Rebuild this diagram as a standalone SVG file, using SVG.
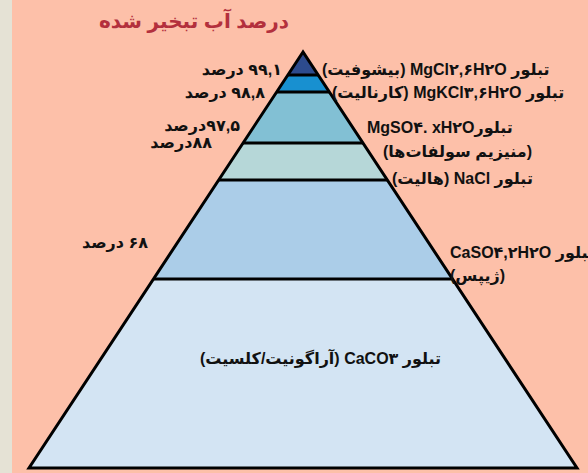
<svg xmlns="http://www.w3.org/2000/svg" width="588" height="473" viewBox="0 0 588 473">
<style>
.t{font-family:"Liberation Sans","DejaVu Sans",sans-serif;font-weight:bold;font-size:16px;fill:#111;direction:rtl}
.ttl{font-family:"Liberation Sans","DejaVu Sans",sans-serif;font-weight:bold;font-size:20px;fill:#b3303d;direction:rtl}
.ln{stroke:#000;stroke-width:3}
</style>
<defs>
<clipPath id="tri"><polygon points="303,52 29,468 577,468"/></clipPath>
</defs>
<rect x="0" y="0" width="588" height="473" fill="#fdc0a9"/>
<rect x="0" y="0" width="12" height="473" fill="#e5e2d5"/>
<g id="pyramid" clip-path="url(#tri)">
<rect id="band1" x="0" y="40" width="588" height="35" fill="#2d4b8d"/>
<rect id="band2" x="0" y="75" width="588" height="17" fill="#1890d0"/>
<rect id="band3" x="0" y="92" width="588" height="51" fill="#82c0d4"/>
<rect id="band4" x="0" y="143" width="588" height="37" fill="#b6d7d8"/>
<rect id="band5" x="0" y="180" width="588" height="99" fill="#abcde8"/>
<rect id="band6" x="0" y="279" width="588" height="200" fill="#d3e4f3"/>
</g>
<g id="connectors" clip-path="url(#tri)">
<line class="ln" x1="0" y1="75" x2="588" y2="75"/>
<line class="ln" x1="0" y1="92" x2="588" y2="92"/>
<line class="ln" x1="0" y1="143" x2="588" y2="143"/>
<line class="ln" x1="0" y1="180" x2="588" y2="180"/>
<line class="ln" x1="0" y1="279" x2="588" y2="279"/>
</g>
<polygon points="303,52 29,468 577,468" fill="none" stroke="#000" stroke-width="3" stroke-linejoin="miter"/>
<g id="title"><text class="ttl" x="194" y="28" text-anchor="middle">درصد آب تبخیر شده</text></g>
<g id="left-labels">
<text class="t" x="282" y="75" text-anchor="start">۹۹,۱ درصد</text>
<text class="t" x="265" y="98" text-anchor="start">۹۸,۸ درصد</text>
<text class="t" x="240" y="131" text-anchor="start">۹۷,۵درصد</text>
<text class="t" x="212" y="148" text-anchor="start">۸۸درصد</text>
<text class="t" x="148" y="248" text-anchor="start">۶۸ درصد</text>
</g>
<g id="right-labels">
<text class="t" x="322" y="75" text-anchor="end">تبلور MgCl۲,۶H۲O (بیشوفیت)</text>
<text class="t" x="332" y="98" text-anchor="end">تبلور MgKCl۳,۶H۲O (کارنالیت)</text>
<text class="t" x="367" y="133" text-anchor="end">تبلورMgSO۴. xH۲O</text>
<text class="t" x="383" y="157" text-anchor="end">(منیزیم سولفات‌ها)</text>
<text class="t" x="392" y="184" text-anchor="end">تبلور NaCl (هالیت)</text>
<text class="t" x="450" y="258" text-anchor="end">تبلور CaSO۴,۲H۲O</text>
<text class="t" x="450" y="281" text-anchor="end">(ژیپس)</text>
<text class="t" x="200" y="364" text-anchor="end">تبلور CaCO۳ (آراگونیت/کلسیت)</text>
</g>
</svg>
